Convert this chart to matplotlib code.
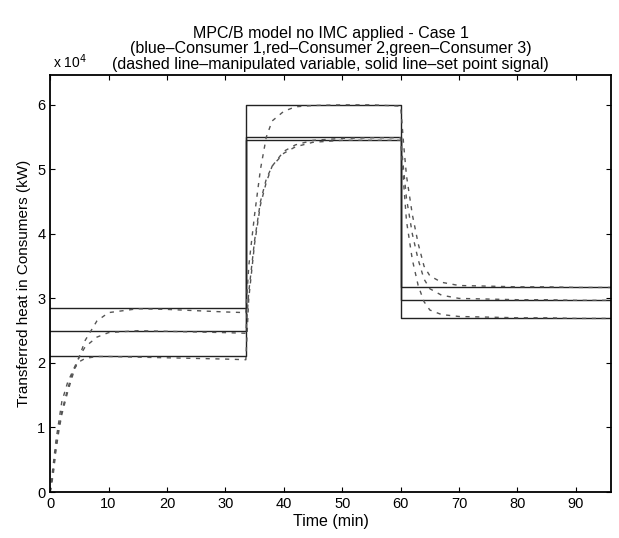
import numpy as np
import matplotlib.pyplot as plt
from matplotlib.ticker import FuncFormatter

plt.rcParams['font.family'] = ['Liberation Sans', 'DejaVu Sans']

# set point signals (kW), piecewise constant, switching at t_sp
t_sp = [0, 33.5, 60, 96]
sp1 = [25000, 55000, 29800, 29800]   # Consumer 1
sp2 = [28500, 60000, 31800, 31800]   # Consumer 2
sp3 = [21000, 54500, 27000, 27000]   # Consumer 3

# manipulated variables (kW)
t_mv = [0, 0.5, 1, 1.5, 2, 3, 4, 5, 6, 8, 10, 15, 20, 25, 30, 33.5,
        34, 35, 36, 37, 38, 40, 42, 45, 50, 55, 60,
        60.5, 61, 62, 63, 64, 65, 67, 70, 75, 80, 85, 90, 96]
mv1 = [0, 3000, 7000, 10000, 12500, 16000, 19000, 21000, 22500, 24000, 24700, 25000, 24900, 24800, 24700, 24600,
       31000, 39000, 45000, 48500, 50500, 52800, 53800, 54500, 54800, 54900, 54900,
       50000, 45500, 40000, 36000, 33000, 31500, 30500, 30000, 29900, 29800, 29800, 29700, 29700]
mv2 = [0, 2500, 6500, 9500, 12000, 15500, 18500, 21000, 23500, 26500, 27800, 28400, 28300, 28100, 27900, 27800,
       35000, 43000, 50000, 55000, 57500, 59000, 59700, 59900, 60000, 60000, 59800,
       54000, 49000, 43000, 38500, 35000, 33500, 32500, 32000, 31900, 31800, 31800, 31700, 31700]
mv3 = [0, 4000, 8000, 11000, 14000, 17000, 19000, 20200, 20700, 21000, 21000, 20900, 20800, 20700, 20600, 20500,
       30000, 38500, 44500, 48000, 50500, 52500, 53500, 54200, 54500, 54500, 54500,
       48000, 42000, 36000, 32000, 29500, 28200, 27500, 27200, 27100, 27000, 27000, 26900, 26900]

fig = plt.figure(figsize=(6.19, 5.38), dpi=100)
ax = fig.add_axes([0.081, 0.0855, 0.906, 0.776])

for sp in [sp1, sp2, sp3]:
    ax.step(t_sp, sp, where='post', color='#222222', lw=1.0)
for mv in [mv1, mv2, mv3]:
    ax.plot(t_mv, mv, color='#555555', lw=1.0, ls=(0, (3, 4)))

ax.set_xlim(0, 96)
ax.set_ylim(0, 64700)
ax.set_xticks(np.arange(0, 91, 10))
ax.set_yticks(np.arange(0, 60001, 10000))
ax.yaxis.set_major_formatter(FuncFormatter(lambda v, p: '%d' % (v / 1e4)))
ax.tick_params(direction='in', top=True, right=True, labelsize=10.5, length=3.5)
for s in ax.spines.values():
    s.set_linewidth(1.3)

ax.text(0.005, 1.008, r'x 10$^4$', transform=ax.transAxes, ha='left', va='bottom', fontsize=10)
ax.set_title('MPC/B model no IMC applied - Case 1\n'
             '(blue\u2013Consumer 1,red\u2013Consumer 2,green\u2013Consumer 3)\n'
             '(dashed line\u2013manipulated variable, solid line\u2013set point signal)',
             fontsize=11.5, pad=4, linespacing=1.05)
ax.set_xlabel('Time (min)', fontsize=11.5, labelpad=2)
ax.set_ylabel('Transferred heat in Consumers (kW)', fontsize=11, labelpad=4)

fig.savefig('out.png')
